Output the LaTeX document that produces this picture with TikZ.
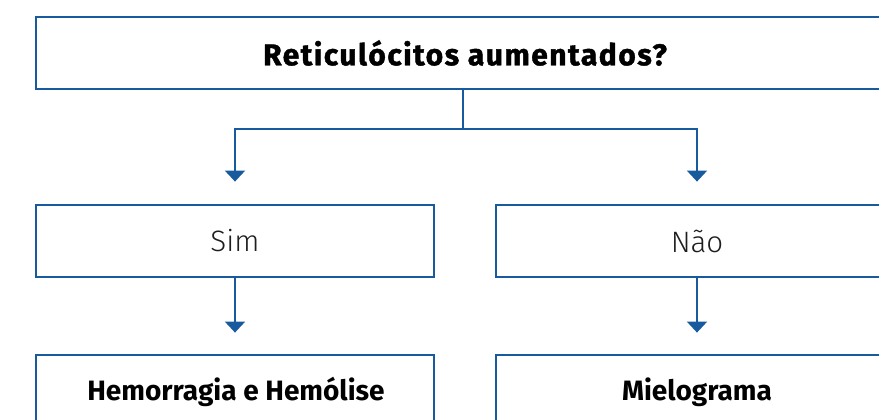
\documentclass[tikz,border=0pt]{standalone}
\usepackage{fontspec}
\setmainfont{Fira Sans}[UprightFont={* Light},BoldFont={* Bold}]
\newfontfamily\heavyfont{Fira Sans}[UprightFont={* Bold},LetterSpace=5,FakeBold=1.4]
\usetikzlibrary{arrows.meta,calc}
\definecolor{fblue}{RGB}{24,90,158}
\definecolor{ftext}{RGB}{30,30,30}
\tikzset{
  fbox/.style={draw=fblue,line width=2.8pt,minimum height=72pt,inner sep=0pt,anchor=center},
  conn/.style={draw=fblue,line width=1.9pt,-{Triangle[width=20pt,length=11pt]}},
  plain/.style={draw=fblue,line width=1.9pt},
  lighttxt/.style={text=ftext,font=\fontsize{29.5}{32}\selectfont},
  boldtxt/.style={font=\bfseries\fontsize{28}{32}\selectfont},
}
\begin{document}
\begin{tikzpicture}[x=1pt,y=1pt]
\useasboundingbox (0,0) rectangle (879,-420);
\clip (0,0) rectangle (879,-420);
\node[fbox,minimum width=854pt] (top) at (463,-53) {};
\node[font=\heavyfont\fontsize{30}{34}\selectfont] (toptxt) at (465,-53) {Reticulócitos aumentados?};
\node[fbox,minimum width=398pt,lighttxt] (sim) at (235,-241) {Sim};
\node[fbox,minimum width=402pt,lighttxt] (nao) at (697,-241) {Não};
\node[fbox,minimum width=398pt] (hem) at (235,-391) {};
\node[boldtxt] (hemtxt) at (236,-392) {Hemorragia e Hemólise};
\node[fbox,minimum width=402pt] (mie) at (697,-391) {};
\node[boldtxt] (mietxt) at (697,-392) {Mielograma};
\coordinate (j) at ($(top.south)+(0,-39)$);
\draw[plain] (top.south) -- (j);
\draw[conn] (j) -| ([yshift=22pt]sim.north);
\draw[conn] (j) -| ([yshift=22pt]nao.north);
\draw[conn] (sim.south) -- ([yshift=21pt]hem.north);
\draw[conn] (nao.south) -- ([yshift=21pt]mie.north);
\end{tikzpicture}
\end{document}
